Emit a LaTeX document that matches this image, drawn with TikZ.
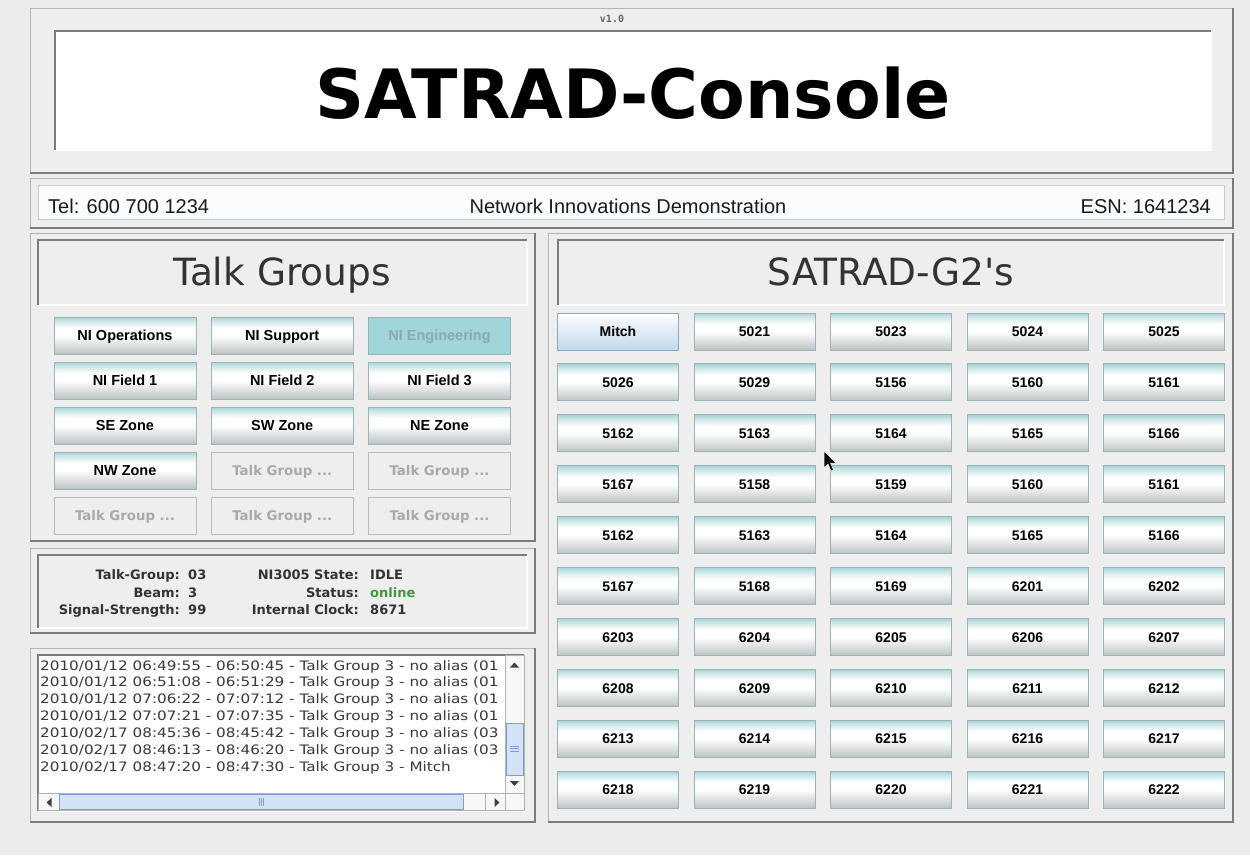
\documentclass[tikz,border=0pt]{standalone}
\usepackage{fontspec}
\setmainfont{Liberation Sans}
\newfontfamily\dv{DejaVu Sans}
\newfontfamily\logf[FakeStretch=1.17]{DejaVu Sans}
\newfontfamily\dvmono{DejaVu Sans Mono}
\definecolor{bg}{HTML}{ECECEC}
\definecolor{panelc}{HTML}{EEEEEE}
\definecolor{frlight}{HTML}{B4B4B4}
\definecolor{frdark}{HTML}{7C7C7C}
\definecolor{btnT}{HTML}{A8D3D6}
\definecolor{btnB}{HTML}{BCC2C2}
\definecolor{btnBd}{HTML}{98B4B6}
\definecolor{txtdark}{HTML}{333333}
\definecolor{onl}{HTML}{3C9A3C}
\definecolor{mitchB}{HTML}{C3D8EE}
\definecolor{mitchBd}{HTML}{8FA6C0}
\definecolor{engF}{HTML}{A0D5D9}
\definecolor{engT}{HTML}{88AAAC}
\definecolor{disT}{HTML}{A9A9A9}
\definecolor{disBd}{HTML}{BBBBBB}
\definecolor{sbBlue}{HTML}{7F9FD3}
\definecolor{sbFill}{HTML}{D3E2F5}
\definecolor{infoBd}{HTML}{C4CCDA}
\definecolor{infoF}{HTML}{FBFCFE}
\pgfdeclareverticalshading{btnshade}{100bp}{color(0bp)=(btnB); color(25bp)=(btnB); color(36bp)=(btnB!55!white); color(50bp)=(white); color(60bp)=(white); color(70bp)=(btnT!60!white); color(75bp)=(btnT); color(100bp)=(btnT)}
\pgfdeclareverticalshading{mitchshade}{100bp}{color(0bp)=(mitchB); color(25bp)=(mitchB); color(60bp)=(mitchB!35!white); color(75bp)=(white); color(100bp)=(white)}
\newcommand{\raisedpanel}[4]{%
  \fill[panelc] (#1,#2) rectangle (#3,#4);
  \draw[frlight, line width=1pt] (#1,#4) -- (#1,#2) -- (#3,#2);
  \draw[frdark, line width=1.6pt] (#1,#4) -- (#3,#4) -- (#3,#2);
}
\newcommand{\insetbox}[5]{%
  \fill[#5] (#1,#2) rectangle (#3,#4);
  \draw[white, line width=1.3pt] (#1,#4) -- (#3,#4) -- (#3,#2);
  \draw[frdark, line width=1.3pt] (#1,#4) -- (#1,#2) -- (#3,#2);
}
\tikzset{
  btnbase/.style={line width=0.9pt, minimum height=37pt,
    inner sep=0pt, text height=10.4pt, text depth=0pt},
  tgsize/.style={btnbase, minimum width=142pt},
  tgbtn/.style={tgsize, draw=btnBd, shading=btnshade, text=black, font=\bfseries\fontsize{14.5}{16}\selectfont},
  engbtn/.style={tgsize, draw=btnBd, fill=engF, text=engT, font=\bfseries\fontsize{14.5}{16}\selectfont},
  disbtn/.style={tgsize, fill=panelc, draw=disBd, text=disT, font=\dv\bfseries\fontsize{13.3}{15}\selectfont},
  gbtn/.style={btnbase, minimum width=121pt, draw=btnBd, shading=btnshade, text=black, font=\bfseries\fontsize{14}{16}\selectfont},
  mitch/.style={shading=mitchshade, draw=mitchBd},
  info/.style={font=\fontsize{20}{22}\selectfont, text=black!90, inner sep=0pt},
  stat/.style={font=\dv\bfseries\fontsize{13}{15}\selectfont, text=txtdark, inner sep=0pt},
  logline/.style={font=\logf\fontsize{13}{15}\selectfont, text=black!78, inner sep=0pt, anchor=base west},
  ptitle/.style={font=\dv\fontsize{37.5}{40}\selectfont, text=txtdark, inner sep=0pt, anchor=base},
}
\begin{document}
\begin{tikzpicture}[x=1pt,y=-1pt]
\useasboundingbox (0,0) rectangle (1250,855);
\fill[bg] (0,0) rectangle (1250,855);

% ---------- header
\raisedpanel{30}{8}{1233}{173}
\node[font=\dvmono\bfseries\fontsize{10}{12}\selectfont, text=black!60, inner sep=0pt, anchor=base] (ver) at (612,22) {v1.0};
\insetbox{55}{31}{1211}{150}{white}
\node[font=\dv\bfseries\fontsize{68}{70}\selectfont, inner sep=0pt, anchor=base] (title) at (633,118) {SATRAD-Console};

% ---------- info bar
\raisedpanel{30}{178}{1233}{228}
\draw[infoBd, fill=infoF, line width=1pt] (38,185) rectangle (1224,219);
\node[info, anchor=base west] (tel) at (48,213) {Tel: 600 700 1234};
\node[info, anchor=base] (demo) at (628,213) {Network Innovations Demonstration};
\node[info, anchor=base east] (esn) at (1211,213) {ESN: 1641234};

% ---------- talk groups
\raisedpanel{30}{233}{535}{541}
\insetbox{38}{240}{527}{305}{panelc}
\node[ptitle] (tgtitle) at (282,285) {Talk Groups};
\foreach \lab [count=\i from 0] in {NI Operations,NI Support,NI Engineering,NI Field 1,NI Field 2,NI Field 3,SE Zone,SW Zone,NE Zone,NW Zone}{
  \pgfmathtruncatemacro{\rr}{\i/3}
  \pgfmathtruncatemacro{\cc}{mod(\i,3)}
  \pgfmathsetmacro{\xx}{125+157.25*\cc}
  \pgfmathsetmacro{\yy}{335.5+45*\rr}
  \ifnum\i=2
    \node[engbtn] (tg\i) at (\xx,\yy) {\lab};
  \else
    \node[tgbtn] (tg\i) at (\xx,\yy) {\lab};
  \fi
}
\node[disbtn] (tg10) at (282.25,470.5) {Talk Group ...};
\node[disbtn] (tg11) at (439.5,470.5) {Talk Group ...};
\node[disbtn] (tg12) at (125,515.5) {Talk Group ...};
\node[disbtn] (tg13) at (282.25,515.5) {Talk Group ...};
\node[disbtn] (tg14) at (439.5,515.5) {Talk Group ...};

% ---------- status
\raisedpanel{30}{548}{535}{633}
\insetbox{38}{555}{527}{628}{panelc}
\node[stat, anchor=base east] (l1) at (180,579) {Talk-Group:};
\node[stat, anchor=base west] (v1) at (188,579) {03};
\node[stat, anchor=base east] (l2) at (180,597) {Beam:};
\node[stat, anchor=base west] (v2) at (188,597) {3};
\node[stat, anchor=base east] (l3) at (180,614.5) {Signal-Strength:};
\node[stat, anchor=base west] (v3) at (188,614.5) {99};
\node[stat, anchor=base east] (l4) at (359,579) {NI3005 State:};
\node[stat, anchor=base west] (v4) at (370,579) {IDLE};
\node[stat, anchor=base east] (l5) at (359,597) {Status:};
\node[stat, anchor=base west, text=onl] (v5) at (370,597) {online};
\node[stat, anchor=base east] (l6) at (359,614.5) {Internal Clock:};
\node[stat, anchor=base west] (v6) at (370,614.5) {8671};

% ---------- log
\raisedpanel{30}{648}{535}{822}
\insetbox{38}{655}{524}{811}{white}
\begin{scope}
  \clip (39,656) rectangle (505,793);
  \node[logline] (lg1) at (40,670) {2010/01/12 06:49:55 - 06:50:45 - Talk Group 3 - no alias (01};
  \node[logline] (lg2) at (40,686.9) {2010/01/12 06:51:08 - 06:51:29 - Talk Group 3 - no alias (01};
  \node[logline] (lg3) at (40,703.8) {2010/01/12 07:06:22 - 07:07:12 - Talk Group 3 - no alias (01};
  \node[logline] (lg4) at (40,720.7) {2010/01/12 07:07:21 - 07:07:35 - Talk Group 3 - no alias (01};
  \node[logline] (lg5) at (40,737.6) {2010/02/17 08:45:36 - 08:45:42 - Talk Group 3 - no alias (03};
  \node[logline] (lg6) at (40,754.5) {2010/02/17 08:46:13 - 08:46:20 - Talk Group 3 - no alias (03};
  \node[logline] (lg7) at (40,771.4) {2010/02/17 08:47:20 - 08:47:30 - Talk Group 3 - Mitch};
\end{scope}
% vertical scrollbar
\draw[black!30, fill=black!3, line width=0.8pt] (505,655) rectangle (524,793);
\draw[sbBlue, fill=sbFill, line width=0.9pt] (506,723) rectangle (523,775);
\foreach \gy in {746,748.5,751} \draw[sbBlue, line width=0.7pt] (510,\gy) -- (519,\gy);
\fill[black!75] (510,667.5) -- (519,667.5) -- (514.5,662.5) -- cycle;
\fill[black!75] (510,781) -- (519,781) -- (514.5,786) -- cycle;
% horizontal scrollbar
\draw[black!30, fill=black!3, line width=0.8pt] (38,793) rectangle (505,810);
\draw[sbBlue, fill=sbFill, line width=0.9pt] (59,794) rectangle (463,809);
\draw[black!30, line width=0.8pt] (485,793) -- (485,810);
\draw[black!30, fill=black!3, line width=0.8pt] (505,793) rectangle (524,810);
\foreach \gx in {259.5,261.5,263.5} \draw[sbBlue, line width=0.7pt] (\gx,798) -- (\gx,806);
\fill[black!75] (51.5,798) -- (51.5,807) -- (46.5,802.5) -- cycle;
\fill[black!75] (494.5,798) -- (494.5,807) -- (499.5,802.5) -- cycle;

% ---------- SATRAD-G2's
\raisedpanel{548}{233}{1233}{822}
\insetbox{558}{240}{1224}{305}{panelc}
\node[ptitle] (gtitle) at (891,285) {SATRAD-G2's};
\node[gbtn, mitch] (g0) at (618,331.5) {Mitch};
\foreach \lab [count=\i from 1] in {5021,5023,5024,5025,5026,5029,5156,5160,5161,5162,5163,5164,5165,5166,5167,5158,5159,5160,5161,5162,5163,5164,5165,5166,5167,5168,5169,6201,6202,6203,6204,6205,6206,6207,6208,6209,6210,6211,6212,6213,6214,6215,6216,6217,6218,6219,6220,6221,6222}{
  \pgfmathtruncatemacro{\rr}{\i/5}
  \pgfmathtruncatemacro{\cc}{mod(\i,5)}
  \pgfmathsetmacro{\xx}{618+136.5*\cc}
  \pgfmathsetmacro{\yy}{331.5+50.9*\rr}
  \node[gbtn] (g\i) at (\xx,\yy) {\lab};
}

% ---------- mouse cursor
\filldraw[black, draw=white, line width=0.5pt] (824,451) -- (824,468) -- (828,464) -- (831,471) -- (833.5,470) -- (830.5,463) -- (836,463) -- cycle;
\end{tikzpicture}
\end{document}
